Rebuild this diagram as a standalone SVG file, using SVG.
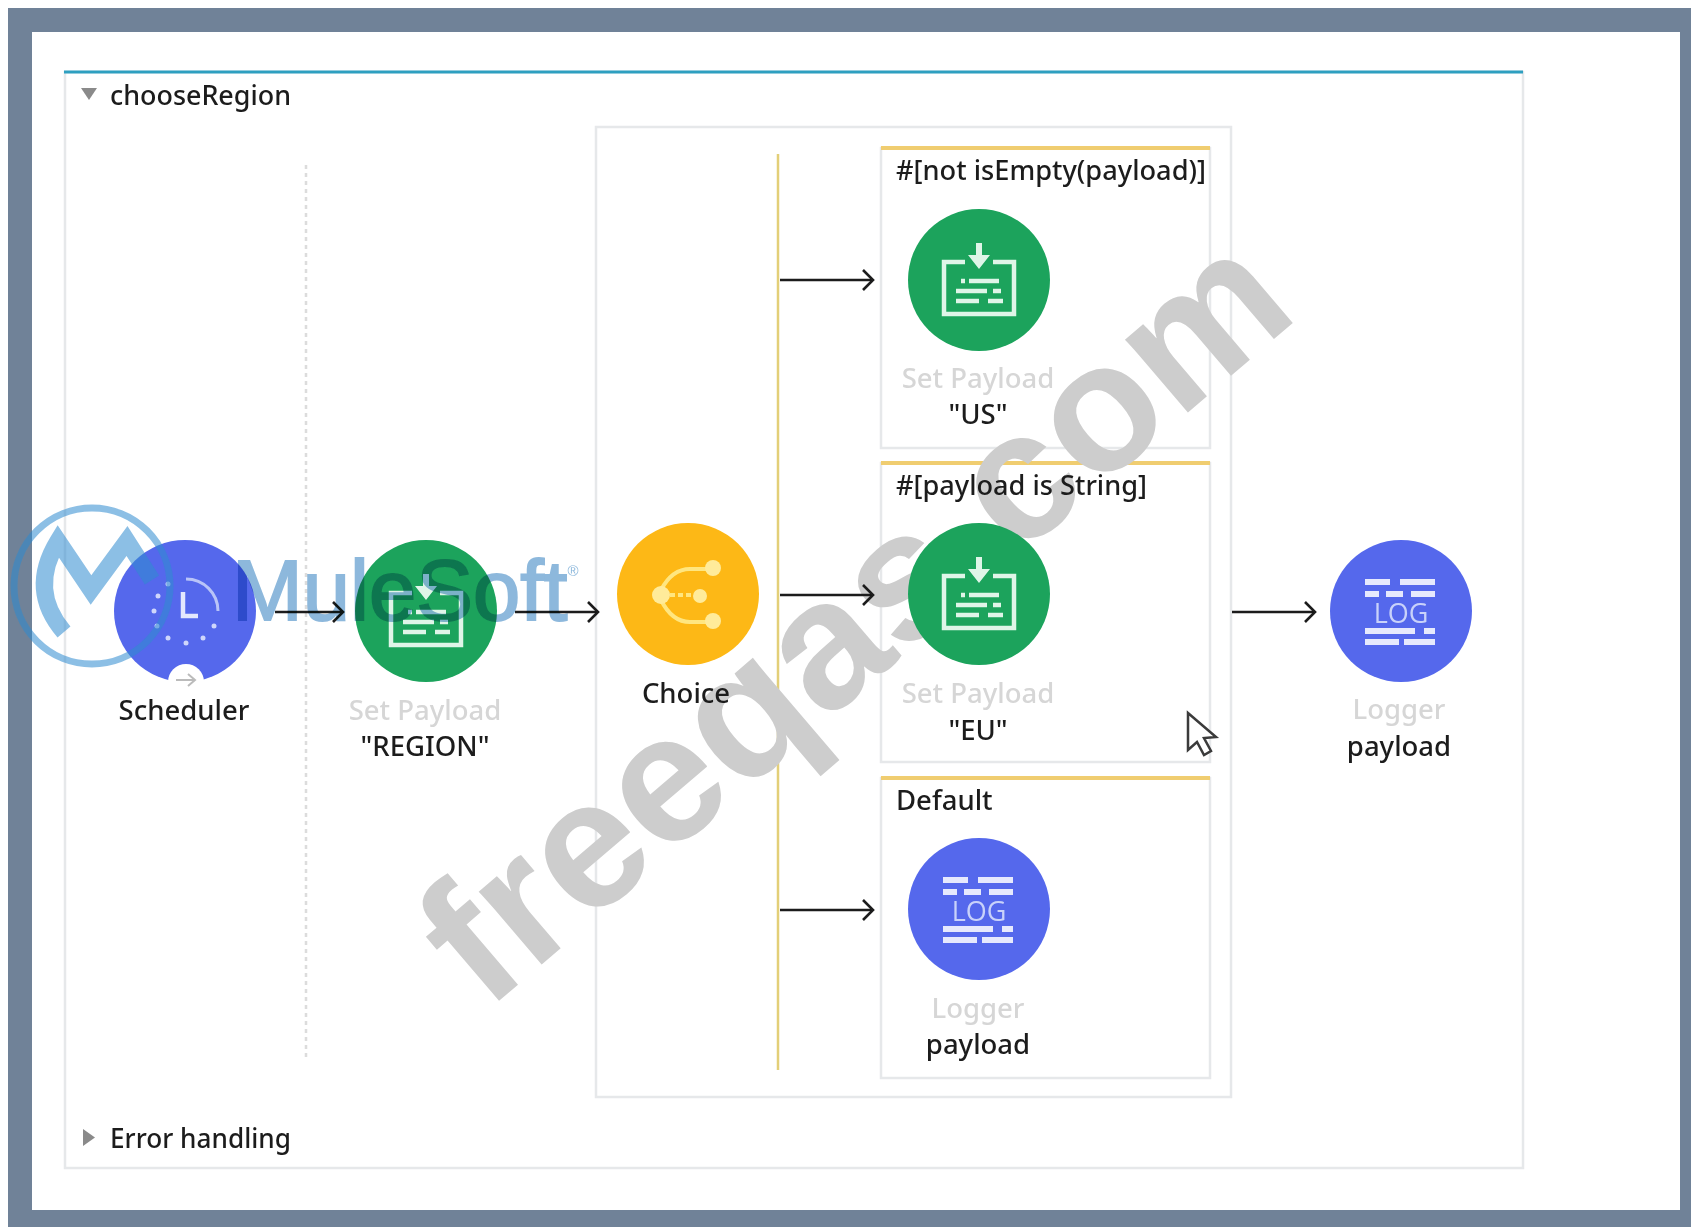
<svg xmlns="http://www.w3.org/2000/svg" width="1691" height="1227" viewBox="0 0 1691 1227">
<style>
text{font-family:"Noto Sans","Liberation Sans",sans-serif;fill:#1c1c1c;font-size:27.5px;font-weight:500}
.m{text-anchor:middle}
.f{fill:#d6d6d6}
.pane{fill:#fff;stroke:#e6e8ea;stroke-width:2.5}
.gold{stroke:#f0cd70;stroke-width:4;fill:none}
.conn{stroke:#1a1a1a;stroke-width:2.6;fill:none;marker-end:url(#ah)}
.ic{stroke:#dff5e8;stroke-width:4.5;fill:none}
.br{fill:#e6e9fd}
.log{fill:#c9d2fa;font-size:27px;font-weight:400;font-family:"Open Sans",sans-serif;text-anchor:middle}
</style>
<defs>
<marker id="ah" markerUnits="userSpaceOnUse" markerWidth="16" markerHeight="24" refX="13" refY="12" orient="auto"><path d="M3 2L13 12L3 22" fill="none" stroke="#1a1a1a" stroke-width="2.6"/></marker>
<filter id="soft" x="0" y="0" width="100%" height="100%"><feGaussianBlur stdDeviation="0.7"/></filter>
<g id="payloadIcon">
<circle r="71" fill="#1aa35b"/>
<path class="ic" d="M-14 -18H-35V34H35V-18H14"/>
<path d="M-3 -37H3V-25H11L0 -11L-11 -25H-3Z" fill="#dff5e8"/>
<path class="ic" d="M-18 1H-14M-10 1H20M-23 11H8M14 11H22M-23 21H0M9 21H24"/>
</g>
<g id="logIcon">
<circle r="71" fill="#5468ec"/>
<path class="br" d="M-36 -32H-11V-26H-36ZM-1 -32H34V-26H-1ZM-36 -20H-22V-14H-36ZM-15 -20H2V-14H-15ZM10 -20H34V-14H10ZM-36 17H14V23H-36ZM23 17H34V23H23ZM-36 28H-2V34H-36ZM3 28H34V34H3Z"/>
</g>
</defs>
<g filter="url(#soft)">
<rect width="1691" height="1227" fill="#fff"/>
<path d="M8 8H1691V1227H8Z" fill="#6f8298"/>
<rect x="32" y="32" width="1648" height="1178" fill="#fff"/>

<g id="panel">
<rect class="pane" x="65" y="72" width="1458" height="1096"/>
<path d="M64 72H1523" stroke="#2f9fc0" stroke-width="3"/>
<path d="M81 88H97L89 100Z" fill="#8a8a8a"/>
<text x="110" y="105" textLength="181" lengthAdjust="spacingAndGlyphs">chooseRegion</text>
<path d="M83 1129L95 1137.5L83 1146Z" fill="#8a8a8a"/>
<text x="110" y="1148" textLength="181" lengthAdjust="spacingAndGlyphs">Error handling</text>
<path d="M306 165V1057" stroke="#dcdcdc" stroke-width="2.5" stroke-dasharray="4 4"/>
</g>

<g id="choice-scope">
<rect class="pane" x="596" y="127" width="635" height="970"/>
<path d="M778 154V1070" stroke="#e3cf78" stroke-width="2.5"/>
</g>
<g id="route-boxes">
<rect class="pane" x="881" y="148" width="329" height="300"/>
<path class="gold" d="M881 148H1210"/>
<rect class="pane" x="881" y="463" width="329" height="299"/>
<path class="gold" d="M881 463H1210"/>
<rect class="pane" x="881" y="778" width="329" height="300"/>
<path class="gold" d="M881 778H1210"/>
</g>

<text id="watermark" transform="translate(486 1012) rotate(-40.5)" style="font-family:'Liberation Sans',sans-serif;font-weight:700;font-size:182px;fill:#cdcdcd">freeqas.com</text>

<g id="route-labels">
<text x="896" y="180" textLength="310" lengthAdjust="spacingAndGlyphs">#[not isEmpty(payload)]</text>
<text x="896" y="495" textLength="251" lengthAdjust="spacingAndGlyphs">#[payload is String]</text>
<text x="896" y="810">Default</text>
</g>

<g id="connectors">
<path class="conn" d="M275 612H343"/>
<path class="conn" d="M515 612H598"/>
<path class="conn" d="M780 280H873"/>
<path class="conn" d="M780 595H873"/>
<path class="conn" d="M780 910H873"/>
<path class="conn" d="M1232 612H1315"/>
</g>

<g id="node-scheduler">
<circle cx="185" cy="611" r="71" fill="#5468ec"/>
<circle cx="186" cy="682" r="18" fill="#fff"/>
<path d="M176 680H194M188 674L195 680L188 686" fill="none" stroke="#bbb" stroke-width="2"/>
<path d="M183 592V616H198" fill="none" stroke="#e4e8fd" stroke-width="4.5"/>
<path d="M186 579A32 32 0 0 1 218 611" fill="none" stroke="#b9c4f8" stroke-width="3"/>
<g fill="#cfd6fb"><circle cx="154" cy="611" r="2.5"/><circle cx="158" cy="596" r="2.5"/><circle cx="168" cy="584" r="2.5"/><circle cx="157" cy="626" r="2.5"/><circle cx="168" cy="638" r="2.5"/><circle cx="186" cy="643" r="2.5"/><circle cx="203" cy="638" r="2.5"/><circle cx="214" cy="626" r="2.5"/></g>
<text class="m" x="184" y="720">Scheduler</text>
</g>
<g id="node-set-region">
<use href="#payloadIcon" x="426" y="611"/>
<text class="m f" x="425" y="720">Set Payload</text>
<text class="m" x="425" y="756">"REGION"</text>
</g>
<g id="node-choice">
<circle cx="688" cy="594" r="71" fill="#fdb813"/>
<g fill="none" stroke="#ffe680" stroke-width="4"><path d="M661 590Q672 569 690 569H713"/><path d="M661 600Q672 622 690 622H713"/><path d="M670 595H700" stroke-dasharray="5 3"/></g>
<g fill="#ffeb9a"><circle cx="661" cy="595" r="9"/><circle cx="700" cy="596" r="7"/><circle cx="713" cy="568" r="8"/><circle cx="713" cy="621" r="8"/></g>
<text class="m" x="686" y="703">Choice</text>
</g>
<g id="node-set-us">
<use href="#payloadIcon" x="979" y="280"/>
<text class="m f" x="978" y="388">Set Payload</text>
<text class="m" x="978" y="424">"US"</text>
</g>
<g id="node-set-eu">
<use href="#payloadIcon" x="979" y="594"/>
<text class="m f" x="978" y="703">Set Payload</text>
<text class="m" x="978" y="740">"EU"</text>
</g>
<g id="node-logger-default">
<use href="#logIcon" x="979" y="909"/>
<text class="log" x="979" y="921">LOG</text>
<text class="m f" x="978" y="1018">Logger</text>
<text class="m" x="978" y="1054">payload</text>
</g>
<g id="node-logger">
<use href="#logIcon" x="1401" y="611"/>
<text class="log" x="1401" y="623">LOG</text>
<text class="m f" x="1399" y="719">Logger</text>
<text class="m" x="1399" y="756">payload</text>
</g>

<g id="mulesoft-logo">
<g opacity="0.55">
<circle cx="92" cy="586" r="78" fill="none" stroke="#2f8bd0" stroke-width="7"/>
<path d="M64 632Q28 590 58 541L91 590L127 541L152 580" fill="none" stroke="#2f8bd0" stroke-width="17"/>
</g>
<g style="mix-blend-mode:multiply">
<text x="232" y="620" style="font-family:'Liberation Sans',sans-serif;font-size:85px;fill:#8db8dc;stroke:#8db8dc;stroke-width:2">MuleSoft<tspan dy="-44" style="font-size:15px;stroke:none">®</tspan></text>
</g>
</g>

<path id="cursor" d="M1188 713L1216 737L1204 738L1211 751L1204 755L1197 742L1188 750Z" fill="#fff" stroke="#3a3a3a" stroke-width="2.5"/>
</g>
</svg>
